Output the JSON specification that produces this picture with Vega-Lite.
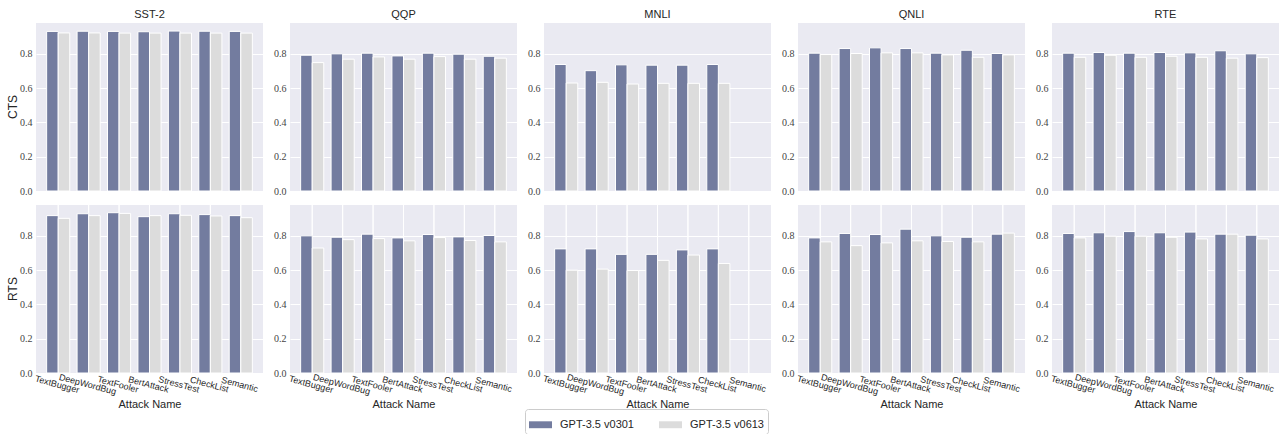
{
  "$schema": "https://vega.github.io/schema/vega-lite/v6.json",
  "background": "white",
  "padding": {"left": 6, "top": 9, "right": 5, "bottom": 0},
  "data": {"values": [
    {"d":"SST-2","m":"CTS","a":"TextBugger","v0301":0.931,"v0613":0.922},
    {"d":"SST-2","m":"CTS","a":"DeepWordBug","v0301":0.932,"v0613":0.922},
    {"d":"SST-2","m":"CTS","a":"TextFooler","v0301":0.931,"v0613":0.921},
    {"d":"SST-2","m":"CTS","a":"BertAttack","v0301":0.929,"v0613":0.921},
    {"d":"SST-2","m":"CTS","a":"StressTest","v0301":0.933,"v0613":0.921},
    {"d":"SST-2","m":"CTS","a":"CheckList","v0301":0.932,"v0613":0.921},
    {"d":"SST-2","m":"CTS","a":"Semantic","v0301":0.931,"v0613":0.921},
    {"d":"SST-2","m":"RTS","a":"TextBugger","v0301":0.918,"v0613":0.902},
    {"d":"SST-2","m":"RTS","a":"DeepWordBug","v0301":0.929,"v0613":0.918},
    {"d":"SST-2","m":"RTS","a":"TextFooler","v0301":0.935,"v0613":0.931},
    {"d":"SST-2","m":"RTS","a":"BertAttack","v0301":0.912,"v0613":0.918},
    {"d":"SST-2","m":"RTS","a":"StressTest","v0301":0.929,"v0613":0.920},
    {"d":"SST-2","m":"RTS","a":"CheckList","v0301":0.924,"v0613":0.916},
    {"d":"SST-2","m":"RTS","a":"Semantic","v0301":0.918,"v0613":0.906},
    {"d":"QQP","m":"CTS","a":"TextBugger","v0301":0.792,"v0613":0.749},
    {"d":"QQP","m":"CTS","a":"DeepWordBug","v0301":0.800,"v0613":0.769},
    {"d":"QQP","m":"CTS","a":"TextFooler","v0301":0.804,"v0613":0.782},
    {"d":"QQP","m":"CTS","a":"BertAttack","v0301":0.788,"v0613":0.769},
    {"d":"QQP","m":"CTS","a":"StressTest","v0301":0.804,"v0613":0.784},
    {"d":"QQP","m":"CTS","a":"CheckList","v0301":0.798,"v0613":0.769},
    {"d":"QQP","m":"CTS","a":"Semantic","v0301":0.786,"v0613":0.775},
    {"d":"QQP","m":"RTS","a":"TextBugger","v0301":0.800,"v0613":0.729},
    {"d":"QQP","m":"RTS","a":"DeepWordBug","v0301":0.792,"v0613":0.778},
    {"d":"QQP","m":"RTS","a":"TextFooler","v0301":0.810,"v0613":0.784},
    {"d":"QQP","m":"RTS","a":"BertAttack","v0301":0.788,"v0613":0.771},
    {"d":"QQP","m":"RTS","a":"StressTest","v0301":0.808,"v0613":0.790},
    {"d":"QQP","m":"RTS","a":"CheckList","v0301":0.794,"v0613":0.773},
    {"d":"QQP","m":"RTS","a":"Semantic","v0301":0.802,"v0613":0.765},
    {"d":"MNLI","m":"CTS","a":"TextBugger","v0301":0.738,"v0613":0.630},
    {"d":"MNLI","m":"CTS","a":"DeepWordBug","v0301":0.702,"v0613":0.634},
    {"d":"MNLI","m":"CTS","a":"TextFooler","v0301":0.736,"v0613":0.624},
    {"d":"MNLI","m":"CTS","a":"BertAttack","v0301":0.734,"v0613":0.628},
    {"d":"MNLI","m":"CTS","a":"StressTest","v0301":0.734,"v0613":0.628},
    {"d":"MNLI","m":"CTS","a":"CheckList","v0301":0.738,"v0613":0.628},
    {"d":"MNLI","m":"CTS","a":"Semantic","v0301":null,"v0613":null},
    {"d":"MNLI","m":"RTS","a":"TextBugger","v0301":0.724,"v0613":0.600},
    {"d":"MNLI","m":"RTS","a":"DeepWordBug","v0301":0.724,"v0613":0.606},
    {"d":"MNLI","m":"RTS","a":"TextFooler","v0301":0.692,"v0613":0.598},
    {"d":"MNLI","m":"RTS","a":"BertAttack","v0301":0.692,"v0613":0.657},
    {"d":"MNLI","m":"RTS","a":"StressTest","v0301":0.718,"v0613":0.688},
    {"d":"MNLI","m":"RTS","a":"CheckList","v0301":0.724,"v0613":0.639},
    {"d":"MNLI","m":"RTS","a":"Semantic","v0301":null,"v0613":null},
    {"d":"QNLI","m":"CTS","a":"TextBugger","v0301":0.804,"v0613":0.796},
    {"d":"QNLI","m":"CTS","a":"DeepWordBug","v0301":0.831,"v0613":0.802},
    {"d":"QNLI","m":"CTS","a":"TextFooler","v0301":0.835,"v0613":0.806},
    {"d":"QNLI","m":"CTS","a":"BertAttack","v0301":0.831,"v0613":0.806},
    {"d":"QNLI","m":"CTS","a":"StressTest","v0301":0.804,"v0613":0.794},
    {"d":"QNLI","m":"CTS","a":"CheckList","v0301":0.821,"v0613":0.780},
    {"d":"QNLI","m":"CTS","a":"Semantic","v0301":0.802,"v0613":0.794},
    {"d":"QNLI","m":"RTS","a":"TextBugger","v0301":0.788,"v0613":0.765},
    {"d":"QNLI","m":"RTS","a":"DeepWordBug","v0301":0.814,"v0613":0.743},
    {"d":"QNLI","m":"RTS","a":"TextFooler","v0301":0.808,"v0613":0.759},
    {"d":"QNLI","m":"RTS","a":"BertAttack","v0301":0.839,"v0613":0.771},
    {"d":"QNLI","m":"RTS","a":"StressTest","v0301":0.800,"v0613":0.767},
    {"d":"QNLI","m":"RTS","a":"CheckList","v0301":0.792,"v0613":0.765},
    {"d":"QNLI","m":"RTS","a":"Semantic","v0301":0.810,"v0613":0.816},
    {"d":"RTE","m":"CTS","a":"TextBugger","v0301":0.804,"v0613":0.780},
    {"d":"RTE","m":"CTS","a":"DeepWordBug","v0301":0.808,"v0613":0.792},
    {"d":"RTE","m":"CTS","a":"TextFooler","v0301":0.804,"v0613":0.780},
    {"d":"RTE","m":"CTS","a":"BertAttack","v0301":0.808,"v0613":0.786},
    {"d":"RTE","m":"CTS","a":"StressTest","v0301":0.806,"v0613":0.780},
    {"d":"RTE","m":"CTS","a":"CheckList","v0301":0.818,"v0613":0.775},
    {"d":"RTE","m":"CTS","a":"Semantic","v0301":0.800,"v0613":0.778},
    {"d":"RTE","m":"RTS","a":"TextBugger","v0301":0.814,"v0613":0.788},
    {"d":"RTE","m":"RTS","a":"DeepWordBug","v0301":0.818,"v0613":0.798},
    {"d":"RTE","m":"RTS","a":"TextFooler","v0301":0.825,"v0613":0.798},
    {"d":"RTE","m":"RTS","a":"BertAttack","v0301":0.818,"v0613":0.792},
    {"d":"RTE","m":"RTS","a":"StressTest","v0301":0.822,"v0613":0.782},
    {"d":"RTE","m":"RTS","a":"CheckList","v0301":0.810,"v0613":0.810},
    {"d":"RTE","m":"RTS","a":"Semantic","v0301":0.804,"v0613":0.782}
  ]},
  "transform": [{"fold": ["v0301", "v0613"], "as": ["model", "value"]}],
  "facet": {
    "row": {"field": "m", "type": "nominal", "sort": ["CTS", "RTS"], "title": null,
      "header": {"labelAngle": -90, "labelOrient": "left", "labelFontSize": 12, "labelFont": "Liberation Sans", "labelColor": "#262626", "labelPadding": -6}},
    "column": {"field": "d", "type": "nominal", "sort": ["SST-2", "QQP", "MNLI", "QNLI", "RTE"], "title": null,
      "header": {"labelFontSize": 11, "labelFont": "Liberation Sans", "labelColor": "#262626", "labelPadding": 3}}
  },
  "spacing": {"row": 8, "column": 10},
  "spec": {
    "width": 227,
    "height": 168,
    "layer": [
      {
        "transform": [{"filter": "datum.m === 'RTS'"}],
        "mark": {"type": "rule", "color": "white", "strokeWidth": 1},
        "encoding": {
          "x": {"field": "a", "type": "nominal", "title": "Attack Name",
            "sort": ["TextBugger", "DeepWordBug", "TextFooler", "BertAttack", "StressTest", "CheckList", "Semantic"]}
        }
      },
      {
        "mark": {"type": "bar", "stroke": "white", "strokeWidth": 1},
        "encoding": {
          "x": {"field": "a", "type": "nominal", "title": "Attack Name",
            "sort": ["TextBugger", "DeepWordBug", "TextFooler", "BertAttack", "StressTest", "CheckList", "Semantic"],
            "scale": {"paddingInner": 0.24, "paddingOuter": 0.35},
            "axis": {"labelAngle": 15, "labelAlign": "center", "labelBaseline": "top", "labelFont": "Liberation Sans", "labelFontSize": 9, "labelColor": "#262626", "labelPadding": 2, "titleFont": "Liberation Sans", "titleFontSize": 11, "titleFontWeight": "normal", "titleColor": "#262626", "titlePadding": 2, "grid": false, "domain": false, "ticks": false}},
          "xOffset": {"field": "model", "type": "nominal", "sort": ["v0301", "v0613"], "scale": {"paddingInner": 0}},
          "y": {"field": "value", "type": "quantitative", "scale": {"domain": [0, 0.98], "nice": false},
            "axis": {"title": null, "values": [0, 0.2, 0.4, 0.6, 0.8], "format": ".1f", "labelFont": "Liberation Serif", "labelFontSize": 10, "labelColor": "#444444", "labelPadding": 4, "grid": true, "gridColor": "white", "gridWidth": 1, "domain": false, "ticks": false}},
          "color": {"field": "model", "type": "nominal", "scale": {"domain": ["v0301", "v0613"], "range": ["#737c9f", "#dcdcdc"]},
            "legend": {"title": null, "orient": "none", "legendX": 489, "legendY": 386, "direction": "horizontal", "labelExpr": "'GPT-3.5 ' + datum.label",
              "symbolType": "M-1,-0.3L1,-0.3L1,0.3L-1,0.3Z", "symbolSize": 529, "symbolStrokeWidth": 0, "symbolOpacity": 1,
              "labelFont": "Liberation Sans", "labelFontSize": 11, "labelColor": "#262626", "labelOffset": 8, "columnPadding": 25,
              "padding": 4, "strokeColor": "#cccccc", "fillColor": "white", "cornerRadius": 3}}
        }
      }
    ]
  },
  "resolve": {"axis": {"y": "independent"}},
  "config": {
    "view": {"fill": "#eaeaf2", "stroke": null},
    "axis": {"grid": false}
  }
}
